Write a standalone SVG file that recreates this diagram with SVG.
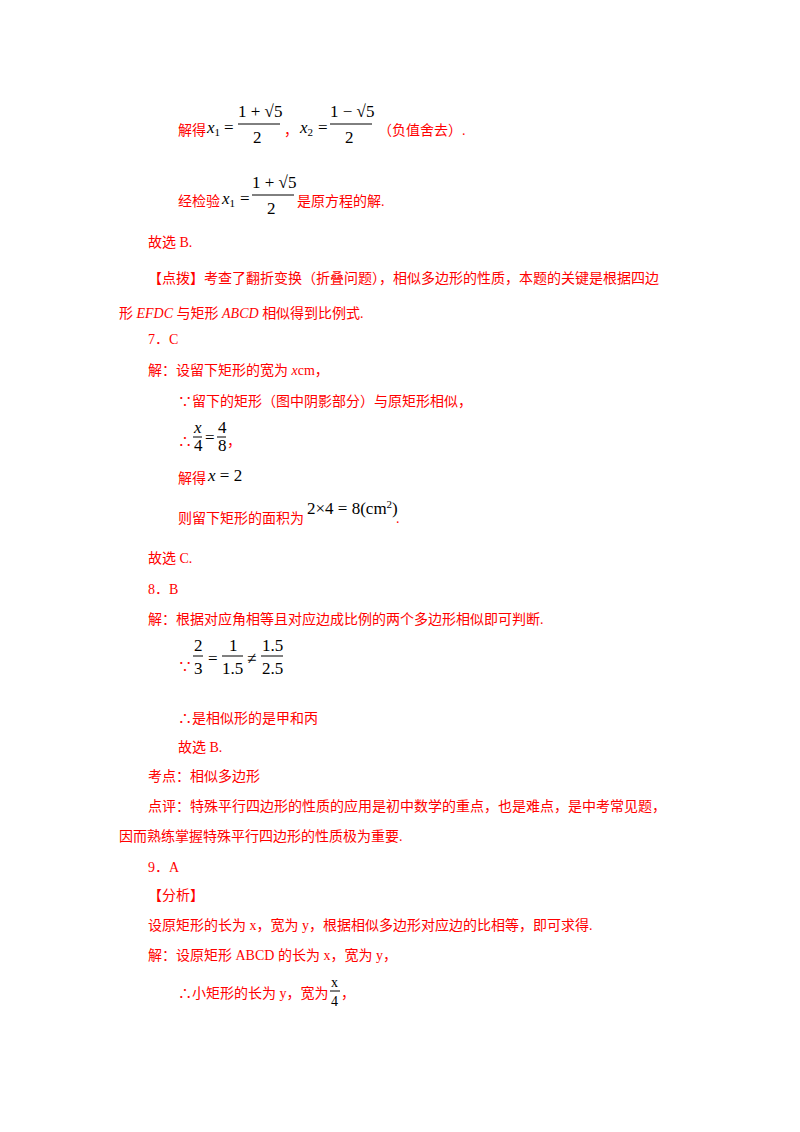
<svg xmlns="http://www.w3.org/2000/svg" width="800" height="1132" viewBox="0 0 800 1132">
<style>
text{font-family:"Liberation Serif","Noto Sans CJK SC",serif;font-size:14px}
.r{fill:#ff0000}
.m{fill:#000;font-family:"Liberation Serif",serif;font-size:17px}
.i{font-style:italic}
.s{font-size:11px}
line{stroke:#000;stroke-width:1}
</style>
<rect width="800" height="1132" fill="#fff"/>
<text x="178" y="135" class="r">解得</text>
<text x="207" y="133" class="m i">x<tspan class="s" dy="3" font-style="normal">1</tspan></text>
<text x="224" y="133" class="m">=</text>
<text x="238" y="117" class="m">1 + √5</text>
<line x1="238" y1="124" x2="280" y2="124"/>
<text x="253" y="143" class="m">2</text>
<text x="284" y="135" class="r">，</text>
<text x="300" y="133" class="m i">x<tspan class="s" dy="3" font-style="normal">2</tspan></text>
<text x="318" y="133" class="m">=</text>
<text x="330" y="117" class="m">1 − √5</text>
<line x1="330" y1="124" x2="372" y2="124"/>
<text x="345" y="143" class="m">2</text>
<text x="378" y="135" class="r">（负值舍去）.</text>
<text x="178" y="206" class="r">经检验</text>
<text x="222" y="204" class="m i">x<tspan class="s" dy="3" font-style="normal">1</tspan></text>
<text x="240" y="204" class="m">=</text>
<text x="252" y="188" class="m">1 + √5</text>
<line x1="252" y1="195" x2="294" y2="195"/>
<text x="267" y="214" class="m">2</text>
<text x="297" y="206" class="r">是原方程的解.</text>
<text x="148" y="247" class="r">故选 B.</text>
<text x="148" y="283" class="r">【点拨】考查了翻折变换（折叠问题），相似多边形的性质，本题的关键是根据四边</text>
<text x="119" y="318" class="r">形 <tspan class="i">EFDC</tspan> 与矩形 <tspan class="i">ABCD</tspan> 相似得到比例式.</text>
<text x="148" y="344" class="r">7．C</text>
<text x="148" y="375" class="r">解：设留下矩形的宽为 <tspan class="i">x</tspan>cm，</text>
<text x="178" y="406" class="r">∵留下的矩形（图中阴影部分）与原矩形相似，</text>
<text x="178" y="446" class="r">∴</text>
<text x="194" y="433" class="m i" font-size="13">x</text>
<line x1="193" y1="437" x2="202" y2="437"/>
<text x="194" y="451" class="m" font-size="13">4</text>
<text x="205" y="443" class="m" font-size="13">=</text>
<text x="218" y="433" class="m" font-size="13">4</text>
<line x1="217" y1="437" x2="226" y2="437"/>
<text x="218" y="451" class="m" font-size="13">8</text>
<text x="227" y="446" class="r">，</text>
<text x="178" y="483" class="r">解得</text>
<text x="208" y="481" class="m" font-size="12"><tspan class="i">x</tspan> = 2</text>
<text x="178" y="523" class="r">则留下矩形的面积为</text>
<text x="307" y="514" class="m" font-size="15">2×4 = 8(cm<tspan class="s" dy="-6" font-size="9">2</tspan><tspan dy="6">)</tspan></text>
<text x="396" y="523" class="r">.</text>
<text x="148" y="563" class="r">故选 C.</text>
<text x="148" y="594" class="r">8．B</text>
<text x="148" y="624" class="r">解：根据对应角相等且对应边成比例的两个多边形相似即可判断.</text>
<text x="178" y="671" class="r">∵</text>
<text x="194" y="651" class="m">2</text>
<line x1="193" y1="656" x2="203" y2="656"/>
<text x="194" y="674" class="m">3</text>
<text x="208" y="664" class="m">=</text>
<text x="229" y="651" class="m">1</text>
<line x1="222" y1="656" x2="243" y2="656"/>
<text x="222" y="674" class="m">1.5</text>
<text x="247" y="664" class="m">≠</text>
<text x="262" y="651" class="m">1.5</text>
<line x1="261" y1="656" x2="283" y2="656"/>
<text x="262" y="674" class="m">2.5</text>
<text x="178" y="723" class="r">∴是相似形的是甲和丙</text>
<text x="178" y="752" class="r">故选 B.</text>
<text x="148" y="781" class="r">考点：相似多边形</text>
<text x="148" y="811" class="r">点评：特殊平行四边形的性质的应用是初中数学的重点，也是难点，是中考常见题，</text>
<text x="119" y="841" class="r">因而熟练掌握特殊平行四边形的性质极为重要.</text>
<text x="148" y="872" class="r">9．A</text>
<text x="148" y="900" class="r">【分析】</text>
<text x="148" y="930" class="r">设原矩形的长为 x，宽为 y，根据相似多边形对应边的比相等，即可求得.</text>
<text x="148" y="960" class="r">解：设原矩形 ABCD 的长为 x，宽为 y，</text>
<text x="178" y="998" class="r">∴小矩形的长为 y，宽为</text>
<text x="331" y="987" font-family="Liberation Sans,sans-serif" font-size="14">x</text>
<line x1="330" y1="991" x2="340" y2="991"/>
<text x="331" y="1006" font-family="Liberation Sans,sans-serif" font-size="14">4</text>
<text x="341" y="998" class="r">，</text>
</svg>
